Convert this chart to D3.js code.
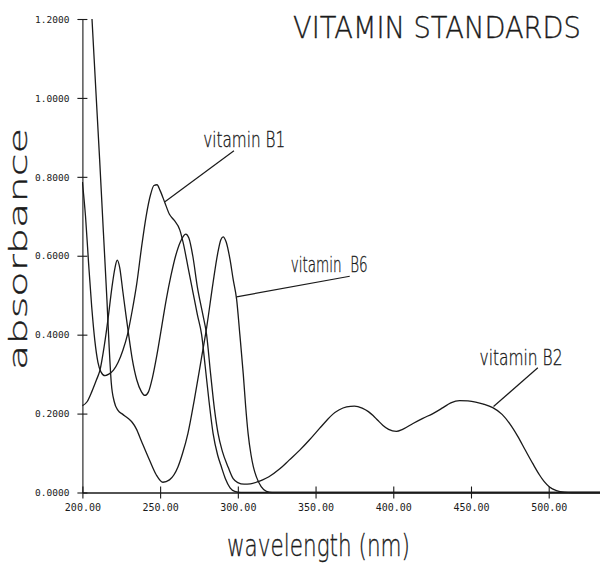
<!DOCTYPE html>
<html>
<head>
<meta charset="utf-8">
<script src="https://cdn.jsdelivr.net/npm/d3@7/dist/d3.min.js"></script>
<style>
  html, body { margin: 0; padding: 0; background: #fff; }
  svg { display: block; }
</style>
</head>
<body>
<svg id="chart" width="600" height="577"></svg>
<script>
// ---------- data ----------
const title = "VITAMIN STANDARDS";
const xLabel = "wavelength (nm)";
const yLabel = "absorbance";
const xTicks = [200, 250, 300, 350, 400, 450, 500];
const yTicks = [0, 0.2, 0.4, 0.6, 0.8, 1.0, 1.2];

const b1Wavelength = [200, 202, 204, 206, 208, 210, 212, 214.5, 217, 220, 223, 226, 229, 232, 235, 238, 241, 244, 246, 248, 250, 253, 256, 259, 262.7, 265, 268, 271, 274, 276.7, 279, 281.5, 284.1, 287, 289.5, 292, 295, 298, 302, 310, 533];
const b1Absorbance = [0.787, 0.70, 0.58, 0.47, 0.385, 0.33, 0.305, 0.296, 0.30, 0.31, 0.33, 0.36, 0.40, 0.46, 0.53, 0.62, 0.70, 0.757, 0.778, 0.78, 0.765, 0.735, 0.705, 0.69, 0.665, 0.63, 0.57, 0.51, 0.45, 0.40, 0.32, 0.23, 0.149, 0.095, 0.064, 0.035, 0.012, 0.003, 0, 0, 0];

const b6Wavelength = [204, 206.2, 208.5, 211.1, 213.5, 215.8, 217.2, 218.6, 220.5, 222.9, 226, 229.3, 232, 234.6, 238, 243.3, 247.5, 251.8, 256, 261.4, 264.5, 267.9, 272, 276.7, 280, 284, 287, 289, 290.5, 292.5, 295, 297, 299.2, 301.3, 303.5, 305, 306.6, 308.5, 310, 312, 315, 318.4, 322, 533];
const b6Absorbance = [1.35, 1.198, 1.03, 0.843, 0.66, 0.487, 0.37, 0.277, 0.23, 0.208, 0.198, 0.188, 0.178, 0.162, 0.13, 0.081, 0.045, 0.026, 0.032, 0.064, 0.10, 0.15, 0.235, 0.343, 0.42, 0.53, 0.605, 0.64, 0.648, 0.635, 0.59, 0.54, 0.49, 0.40, 0.30, 0.22, 0.15, 0.095, 0.065, 0.039, 0.015, 0.003, 0, 0];

const b2Wavelength = [200, 203, 206, 209, 211.3, 214, 216.5, 219, 221, 222.4, 224, 226, 228, 229.5, 232, 235, 238, 240.2, 242.5, 245, 248, 251, 254, 257, 260, 263, 266.5, 268.5, 271, 274, 277, 279.9, 282.5, 285, 287.3, 290, 293.8, 297, 300, 304, 308, 312, 316, 320, 327, 333, 340, 346, 352.7, 357, 361, 365, 370, 375, 380, 384, 387, 390, 393.4, 397, 402, 406, 412.7, 419, 425.5, 432, 437, 442.7, 448, 453, 458, 464, 470, 475, 480, 485, 489.8, 494, 497, 500.5, 505, 510, 515, 533];
const b2Absorbance = [0.22, 0.23, 0.255, 0.285, 0.31, 0.37, 0.44, 0.52, 0.57, 0.589, 0.57, 0.51, 0.45, 0.407, 0.34, 0.285, 0.255, 0.246, 0.255, 0.29, 0.35, 0.42, 0.49, 0.55, 0.60, 0.635, 0.655, 0.645, 0.60, 0.52, 0.46, 0.40, 0.30, 0.21, 0.149, 0.105, 0.064, 0.035, 0.025, 0.021, 0.022, 0.026, 0.032, 0.040, 0.060, 0.082, 0.108, 0.133, 0.163, 0.182, 0.198, 0.209, 0.217, 0.219, 0.214, 0.205, 0.195, 0.183, 0.17, 0.16, 0.155, 0.16, 0.175, 0.188, 0.20, 0.215, 0.227, 0.233, 0.232, 0.229, 0.224, 0.215, 0.198, 0.174, 0.143, 0.107, 0.073, 0.045, 0.028, 0.014, 0.005, 0.001, 0, 0];

// annotation labels: text, text anchor point, leader start (near text), leader end (on curve), in data units
const labelNames = ["vitamin B1", "vitamin  B6", "vitamin B2"];
const labelTextAt = [[277.7, 0.876], [334, 0.558], [455.5, 0.322]];
const labelLeaderFrom = [[297.5, 0.866], [372, 0.548], [493, 0.316]];
const labelLeaderTo = [[253.1, 0.737], [299.2, 0.496], [464.5, 0.218]];

// ---------- layout ----------
const svg = d3.select("#chart");
const W = 600, H = 577;
svg.append("rect").attr("width", W).attr("height", H).attr("fill", "#fff");

const x = d3.scaleLinear().domain([200, 533]).range([82.4, 600]);
const y = d3.scaleLinear().domain([0, 1.2]).range([492.5, 19]);

const ink = "#1a1a1a";

// clip
svg.append("clipPath").attr("id", "plotClip")
  .append("rect").attr("x", 82).attr("y", 19).attr("width", 520).attr("height", 476);

// axes
const yAxis = d3.axisLeft(y).tickValues(yTicks).tickFormat(d3.format(".4f")).tickSizeInner(5).tickSizeOuter(0);
const gy = svg.append("g").attr("transform", `translate(${x(200)},0)`).call(yAxis);
gy.select(".domain").attr("stroke", ink).attr("stroke-width", 1.1);
gy.selectAll(".tick line").attr("x1", -5).attr("x2", 5).attr("stroke", ink).attr("stroke-width", 1.1);
gy.selectAll(".tick text").attr("x", -13).attr("dy", "0.34em")
  .attr("font-family", "'DejaVu Sans Mono', monospace").attr("font-size", 9.5).attr("fill", ink);

const xAxis = d3.axisBottom(x).tickValues(xTicks).tickFormat(d3.format(".2f")).tickSizeInner(6).tickSizeOuter(0);
const gx = svg.append("g").attr("transform", `translate(0,${y(0)})`).call(xAxis);
gx.select(".domain").attr("stroke", ink).attr("stroke-width", 1.3);
gx.selectAll(".tick line").attr("y1", -6).attr("y2", 6).attr("stroke", ink).attr("stroke-width", 1.1);
gx.selectAll(".tick text").attr("y", 11).attr("dy", "0.71em")
  .attr("font-family", "'DejaVu Sans Mono', monospace").attr("font-size", 10).attr("fill", ink);
svg.selectAll(".domain, .tick line").attr("shape-rendering", "auto");

// curves
const line = d3.line().x(d => x(d[0])).y(d => y(d[1])).curve(d3.curveMonotoneX);
const series = [
  d3.zip(b1Wavelength, b1Absorbance),
  d3.zip(b6Wavelength, b6Absorbance),
  d3.zip(b2Wavelength, b2Absorbance)
];
svg.append("g").attr("clip-path", "url(#plotClip)")
  .selectAll("path").data(series).join("path")
  .attr("d", line)
  .attr("fill", "none")
  .attr("stroke", ink)
  .attr("stroke-width", 1.3)
  .attr("stroke-linejoin", "round");

// text helper: places text starting at (px,py), scaled horizontally to the given width
const labelFont = "'DejaVu Sans', sans-serif";
function fittedText(parent, str, px, py, size, width, rotate) {
  const t = parent.append("text")
    .attr("font-family", labelFont).attr("font-weight", 200).attr("font-size", size)
    .attr("fill", ink).attr("stroke", ink).attr("stroke-width", 0.35)
    .style("white-space", "pre")
    .text(str);
  const natural = t.node().getComputedTextLength() || width;
  const sx = width / natural;
  t.attr("transform", `translate(${px},${py})${rotate ? " rotate(-90)" : ""} scale(${sx},1)`);
  return t;
}

const labelWidths = [82, 77, 83];
labelNames.forEach((name, i) => {
  svg.append("line")
    .attr("x1", x(labelLeaderFrom[i][0])).attr("y1", y(labelLeaderFrom[i][1]))
    .attr("x2", x(labelLeaderTo[i][0])).attr("y2", y(labelLeaderTo[i][1]))
    .attr("stroke", ink).attr("stroke-width", 1.2);
  fittedText(svg, name, x(labelTextAt[i][0]), y(labelTextAt[i][1]), 21, labelWidths[i], false);
});

// title
fittedText(svg, title, 293, 38, 30, 288, false);
// x label
fittedText(svg, xLabel, 227, 556, 31, 183, false);
// y label (reads bottom to top, starting near y = 370)
fittedText(svg, yLabel, 27, 370, 25, 242, true);
</script>
</body>
</html>
